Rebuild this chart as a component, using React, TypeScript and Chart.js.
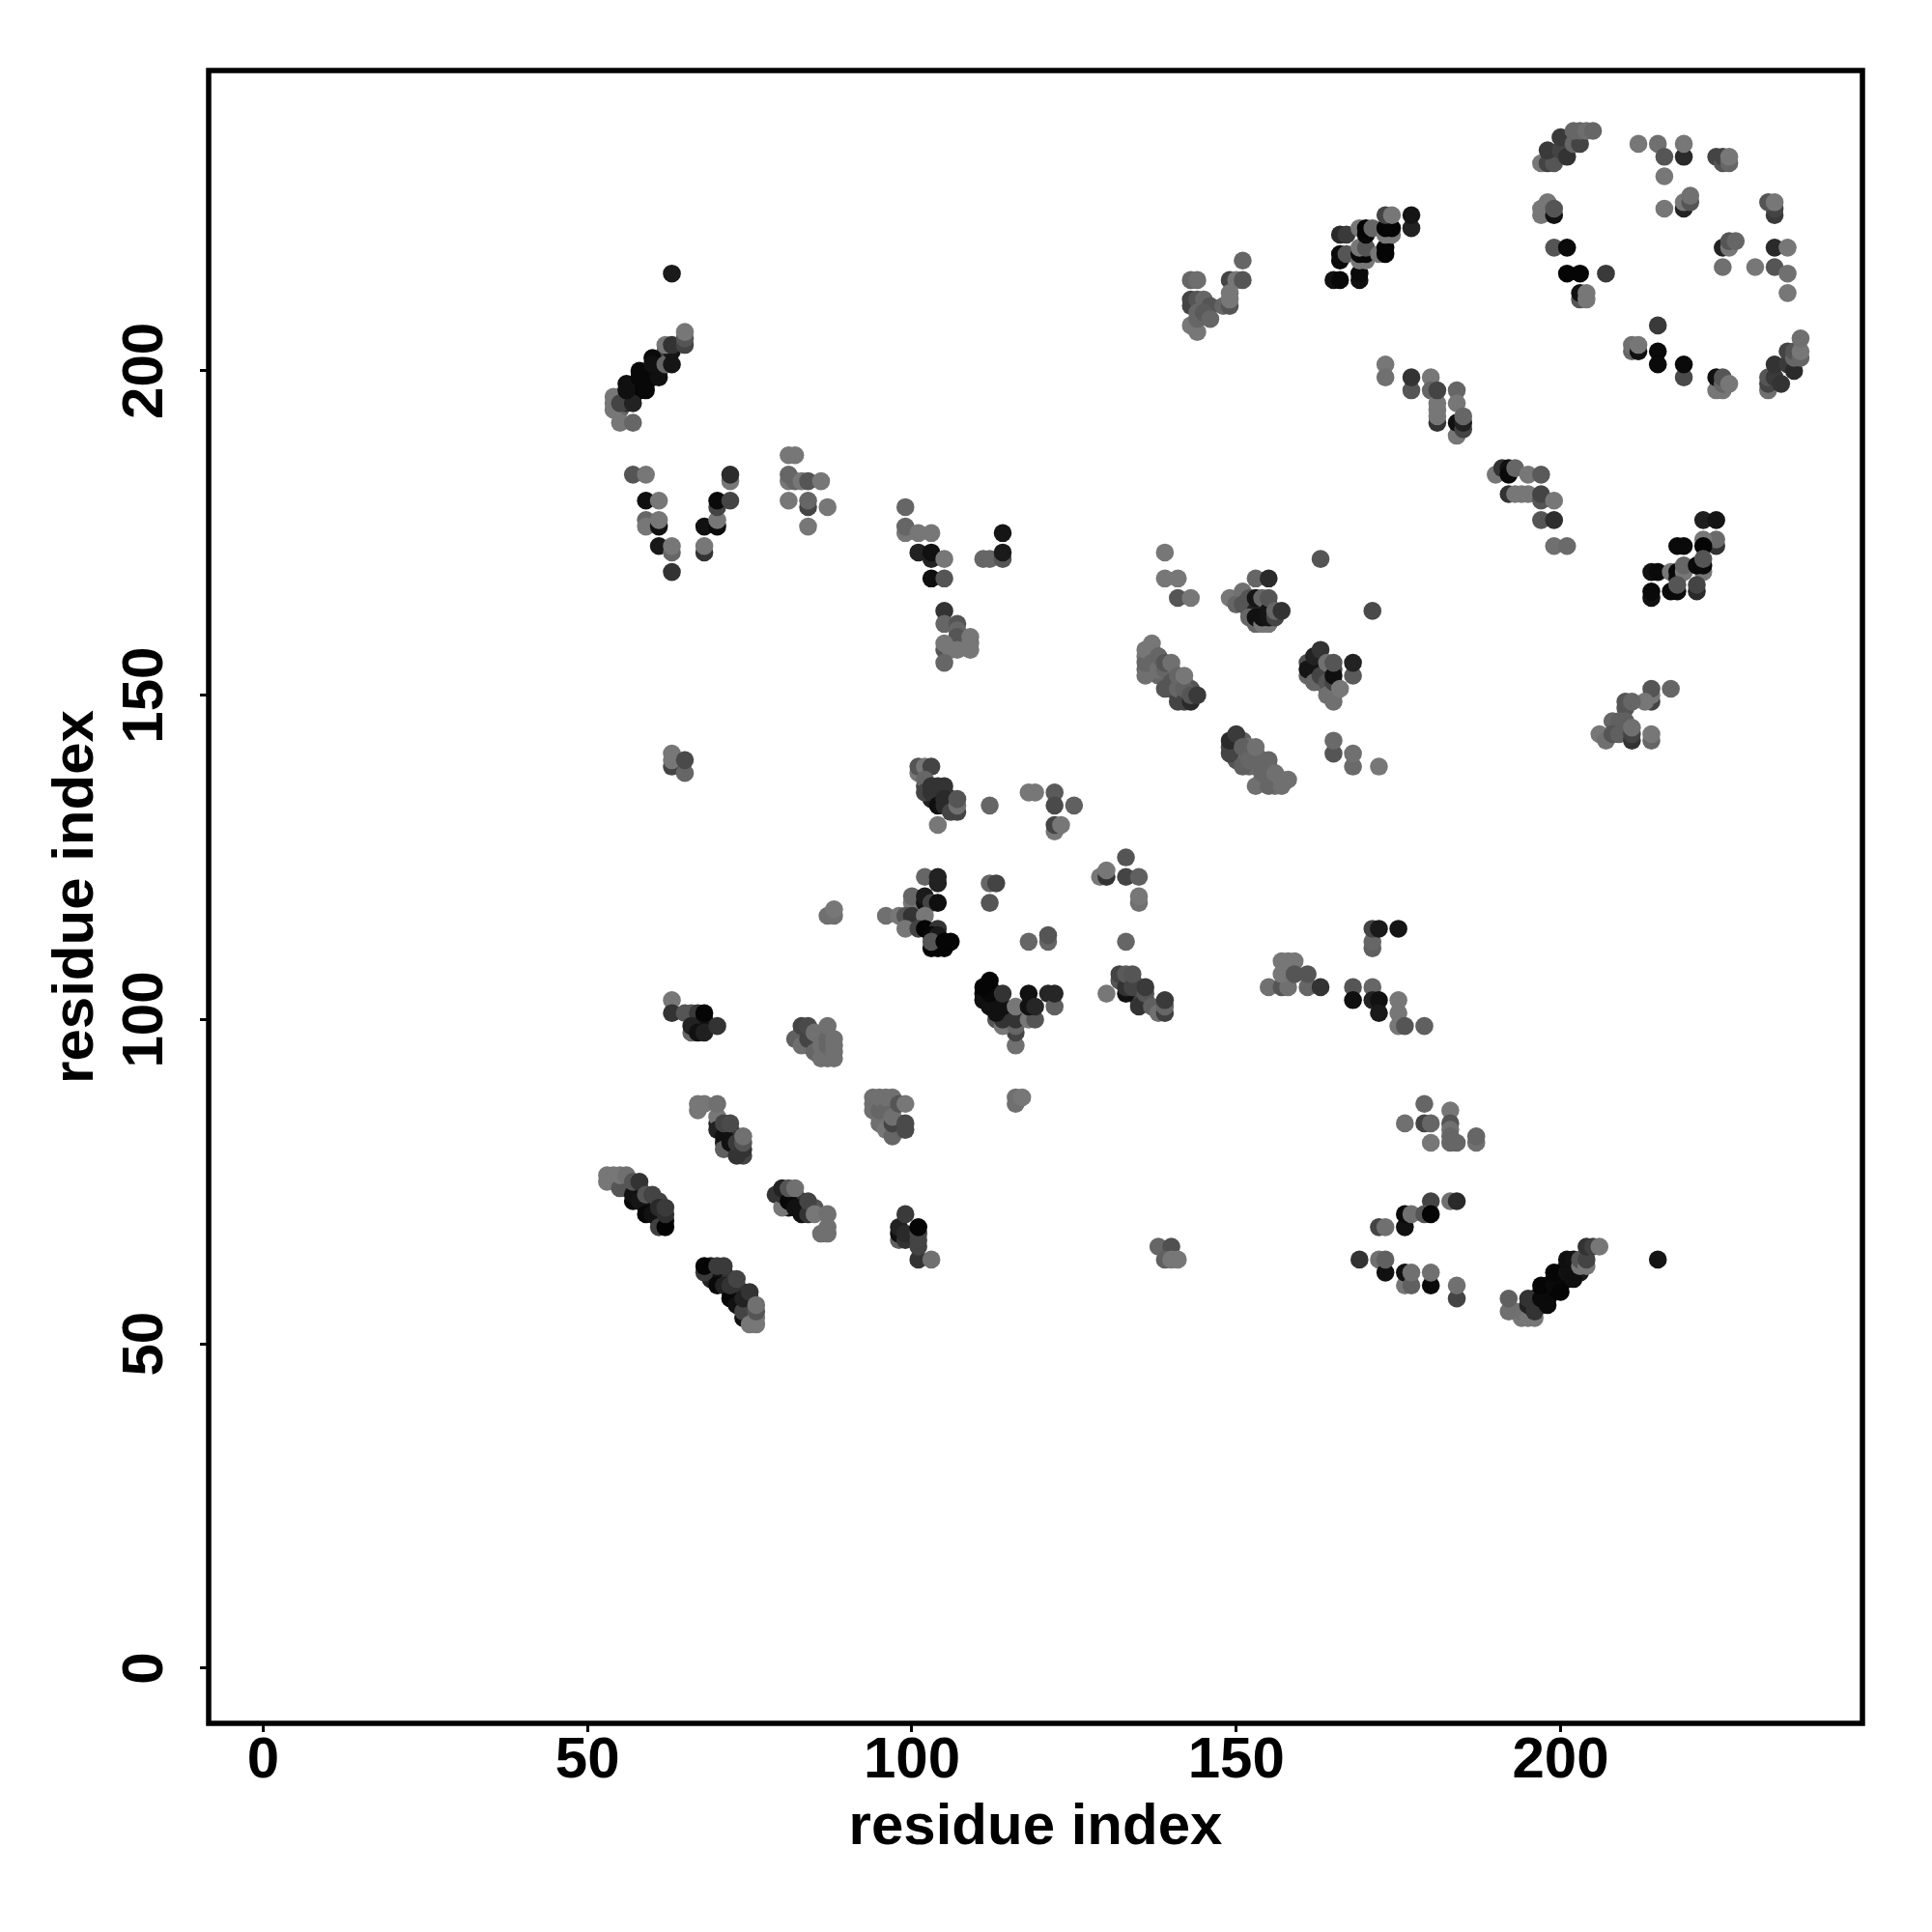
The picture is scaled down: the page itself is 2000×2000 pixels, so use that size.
import React, { useEffect, useRef } from "react";
import { Chart, registerables } from "chart.js";

Chart.register(...registerables);

type Contact = [number, number, number];

const axisTicks = [0, 50, 100, 150, 200];
const axisLabel = "residue index";

// [residue i, residue j, grey level of the mark]
const denseBandsLow: Contact[] = [[53,76,0x77],[54,76,0x77],[55,75,0x66],[56,75,0x55],[56,74,0x33],[57,74,0x22],[58,73,0x11],[58,74,0x44],[59,72,0x0f],[59,71,0x11],[60,72,0x33],[60,71,0x11],[61,70,0x11],[61,69,0x11],[62,69,0x11],[61,72,0x44],[69,62,0x22],[69,61,0x15],[69,60,0x22],[70,61,0x11],[70,60,0x11],[71,61,0x22],[71,60,0x11],[72,60,0x33],[72,58,0x11],[73,59,0x22],[73,58,0x11],[73,57,0x11],[74,58,0x33],[74,56,0x22],[75,56,0x44],[75,57,0x33],[75,55,0x44],[75,54,0x77],[193,55,0x77],[194,54,0x77],[196,56,0x22],[196,57,0x15],[197,58,0x0a],[197,56,0x15],[198,57,0x08],[198,58,0x0a],[198,59,0x0a],[199,58,0x05],[199,60,0x0a],[200,59,0x08],[200,60,0x08],[200,61,0x08],[201,60,0x08],[201,62,0x0f],[202,61,0x0f],[202,62,0x11],[203,61,0x1a],[81,73,0x33],[81,71,0x11],[82,72,0x22],[82,73,0x55],[83,72,0x33],[83,71,0x11],[84,71,0x33],[85,71,0x55],[70,84,0x22],[71,83,0x11],[72,82,0x11],[72,83,0x33],[73,82,0x33],[73,80,0x33],[74,79,0x44],[71,81,0x22],[83,97,0x55],[83,98,0x44],[84,98,0x4a],[84,96,0x55],[85,96,0x66],[85,97,0x66],[86,95,0x70],[86,97,0x70],[87,95,0x70],[94,87,0x70],[95,85,0x70],[95,87,0x70],[96,85,0x66],[96,84,0x66],[96,87,0x70],[97,83,0x55],[97,86,0x66],[98,84,0x44],[98,83,0x44]];
const denseBandsHigh: Contact[] = [[55,196,0x55],[55,194,0x66],[56,195,0x33],[56,196,0x22],[57,196,0x11],[57,197,0x08],[58,197,0x06],[58,198,0x06],[59,198,0x08],[59,199,0x10],[60,199,0x08],[60,200,0x0a],[61,200,0x0a],[61,201,0x0f],[62,202,0x11],[62,203,0x44],[137,156,0x77],[137,154,0x66],[138,155,0x66],[138,153,0x66],[139,153,0x66],[140,153,0x66],[140,154,0x66],[140,151,0x55],[141,152,0x66],[141,150,0x44],[142,150,0x44],[142,152,0x66],[143,151,0x55],[137,157,0x77],[136,156,0x77],[136,154,0x66],[150,143,0x44],[150,142,0x44],[150,141,0x55],[150,140,0x55],[151,141,0x60],[151,143,0x60],[151,140,0x66],[152,141,0x66],[152,142,0x70],[152,139,0x66],[153,141,0x70],[153,140,0x6a],[153,139,0x6a],[154,140,0x66],[154,139,0x66],[154,137,0x70],[155,139,0x66],[155,138,0x66],[156,137,0x70],[156,136,0x70],[152,164,0x44],[153,164,0x15],[154,164,0x22],[154,163,0x11],[155,164,0x44],[151,165,0x66],[152,163,0x66],[153,161,0x66],[162,155,0x22],[162,153,0x33],[163,155,0x33],[163,154,0x44],[164,153,0x33],[164,154,0x55],[165,154,0x44],[165,151,0x66],[165,150,0x70],[163,152,0x66],[164,151,0x66],[161,153,0x66],[112,103,0x0a],[112,105,0x05],[111,104,0x05],[113,102,0x08],[113,103,0x08],[113,104,0x22],[115,100,0x33],[115,101,0x33],[114,101,0x22],[113,100,0x55],[102,136,0x44],[103,134,0x22],[104,134,0x22],[104,135,0x33],[105,135,0x33],[106,133,0x33],[106,134,0x33],[133,106,0x44],[134,106,0x44],[134,104,0x22],[135,103,0x33],[135,104,0x44],[135,105,0x55]];
const helixA: Contact[] = [[54,196,0x77],[54,195,0x77],[54,194,0x77],[55,192,0x77],[57,192,0x66],[55,195,0x44],[57,195,0x22],[56,198,0x10],[56,197,0x10],[59,197,0x08],[58,200,0x08],[58,199,0x08],[61,199,0x10],[60,202,0x0a],[60,201,0x10],[62,201,0x66],[63,201,0x15],[63,203,0x15],[62,204,0x77],[63,204,0x33],[65,204,0x44],[65,205,0x55],[65,206,0x77],[63,215,0x1a]];
const clusterB: Contact[] = [[57,184,0x55],[59,184,0x77],[59,180,0x0f],[61,180,0x77],[59,177,0x66],[59,176,0x77],[61,176,0x11],[61,177,0x77],[61,173,0x18],[63,172,0x66],[63,173,0x77],[63,169,0x33],[68,172,0x33],[68,173,0x77],[68,176,0x11],[70,176,0x0a],[70,177,0x77],[70,179,0x44],[70,180,0x0a],[72,180,0x44],[72,183,0x77],[72,184,0x2c]];
const clusterC: Contact[] = [[81,187,0x77],[82,187,0x77],[81,183,0x77],[81,184,0x66],[82,183,0x66],[83,183,0x77],[84,183,0x55],[86,183,0x77],[81,180,0x77],[84,179,0x44],[84,180,0x66],[87,179,0x77],[84,176,0x77]];
const clusterD: Contact[] = [[99,179,0x66],[99,175,0x77],[99,176,0x66],[101,175,0x77],[103,175,0x77],[101,172,0x22],[103,171,0x22],[103,172,0x11],[105,171,0x77],[103,168,0x0f],[105,168,0x55],[111,171,0x66],[112,171,0x66],[114,171,0x55],[114,172,0x1a],[114,175,0x15],[105,163,0x33],[105,161,0x66],[107,161,0x55],[107,160,0x66],[107,159,0x55],[109,159,0x77],[109,158,0x77],[109,157,0x77],[105,157,0x55],[105,158,0x77],[106,157,0x77],[107,157,0x77],[105,155,0x66]];
const clusterE: Contact[] = [[143,214,0x66],[144,214,0x6e],[149,214,0x44],[150,214,0x77],[151,214,0x55],[151,217,0x66],[149,212,0x77],[143,210,0x44],[143,211,0x44],[144,211,0x55],[145,211,0x66],[146,210,0x55],[148,210,0x66],[149,210,0x55],[149,211,0x77],[143,207,0x77],[144,206,0x77],[144,208,0x66],[144,209,0x66],[145,209,0x5a],[146,208,0x66]];
const clusterF: Contact[] = [[165,214,0x11],[166,214,0x08],[169,214,0x10],[169,215,0x0a],[166,217,0x0a],[166,218,0x0a],[167,218,0x55],[166,221,0x2a],[167,221,0x3a],[169,217,0x77],[170,217,0x77],[169,218,0x0a],[170,218,0x08],[169,219,0x77],[170,219,0x55],[169,222,0x77],[170,221,0x08],[170,222,0x05],[171,222,0x66],[172,218,0x77],[173,218,0x05],[173,219,0x05],[173,221,0x77],[174,221,0x77],[173,222,0x05],[174,222,0x05],[173,224,0x44],[174,224,0x77],[177,222,0x22],[177,224,0x15]];
const clusterG: Contact[] = [[173,201,0x77],[173,199,0x70],[177,197,0x55],[177,199,0x33],[180,199,0x77],[180,197,0x66],[181,192,0x33],[181,193,0x77],[181,194,0x77],[181,195,0x77],[181,197,0x44],[184,197,0x66],[184,195,0x77],[184,190,0x77],[184,192,0x11],[185,191,0x44],[185,192,0x22],[185,193,0x66]];
const arcTop: Contact[] = [[197,232,0x77],[198,232,0x44],[199,232,0x55],[198,234,0x3a],[200,234,0x44],[201,233,0x33],[200,236,0x3a],[202,235,0x66],[203,235,0x44],[202,237,0x66],[203,237,0x66],[204,237,0x6e],[205,237,0x66],[212,235,0x77],[215,235,0x70],[216,233,0x55],[219,233,0x2a],[219,235,0x77],[216,230,0x77],[224,233,0x44],[225,232,0x55],[225,233,0x44],[226,232,0x66],[226,233,0x77],[216,225,0x77],[219,225,0x22],[219,226,0x77],[220,226,0x55],[220,227,0x70],[233,224,0x3a],[233,225,0x44],[232,226,0x55],[233,226,0x77]];
const arcLeft: Contact[] = [[197,224,0x77],[197,225,0x77],[198,226,0x77],[199,224,0x11],[199,225,0x55],[199,219,0x55],[201,219,0x0a],[201,215,0x05],[203,215,0x05],[207,215,0x3a],[203,211,0x55],[203,212,0x11],[204,211,0x77],[204,212,0x77]];
const arcRight: Contact[] = [[225,219,0x22],[226,219,0x77],[226,220,0x55],[227,220,0x66],[225,216,0x70],[230,216,0x77],[233,219,0x2a],[235,219,0x77],[233,216,0x55],[235,215,0x70],[235,212,0x77]];
const arcBottom: Contact[] = [[215,207,0x3a],[211,203,0x66],[211,204,0x70],[212,203,0x10],[212,204,0x77],[215,203,0x0a],[215,201,0x0a],[219,199,0x4a],[219,201,0x0a],[224,197,0x77],[225,197,0x77],[224,199,0x11],[225,198,0x66],[225,199,0x55],[226,198,0x77],[232,197,0x70],[232,198,0x44],[232,199,0x55],[233,199,0x3a],[233,201,0x33],[234,198,0x33],[235,201,0x3a],[236,200,0x2a],[235,203,0x44],[236,202,0x66],[236,203,0x55],[237,202,0x66],[237,203,0x77],[237,205,0x70]];
const clusterH: Contact[] = [[190,184,0x77],[191,185,0x33],[192,185,0x11],[192,184,0x0a],[193,185,0x66],[195,184,0x77],[197,184,0x5a],[192,181,0x33],[193,181,0x77],[194,181,0x77],[195,181,0x77],[197,180,0x55],[197,181,0x44],[199,180,0x77],[197,177,0x55],[199,177,0x2e],[199,173,0x70],[201,173,0x6a]];
const clusterI: Contact[] = [[222,177,0x1f],[224,177,0x15],[224,173,0x33],[224,174,0x6a],[222,174,0x77],[222,173,0x05],[218,173,0x0a],[219,173,0x0a],[214,169,0x11],[215,169,0x0a],[217,169,0x77],[218,168,0x11],[218,169,0x08],[219,169,0x77],[219,170,0x66],[222,169,0x77],[221,170,0x0a],[222,170,0x0a],[222,171,0x55],[214,165,0x11],[214,166,0x0a],[217,166,0x0a],[218,166,0x0a],[218,167,0x55],[221,166,0x2a],[221,167,0x44]];
const clusterJ: Contact[] = [[214,149,0x44],[214,150,0x77],[214,151,0x55],[217,151,0x66],[213,149,0x77],[210,148,0x55],[210,149,0x55],[211,149,0x66],[208,146,0x66],[209,146,0x60],[210,146,0x60],[206,144,0x77],[207,143,0x70],[208,144,0x55],[209,144,0x60],[211,143,0x33],[211,144,0x44],[211,145,0x70],[214,143,0x66],[214,144,0x77]];
const clusterK: Contact[] = [[139,172,0x77],[139,168,0x77],[141,168,0x77],[141,165,0x55],[143,165,0x77],[153,168,0x66],[155,168,0x2a],[163,171,0x55],[171,163,0x4a],[149,165,0x77],[150,164,0x66],[151,166,0x70],[151,164,0x55],[152,165,0x55],[153,163,0x22],[153,165,0x15],[152,162,0x66],[153,162,0x11],[154,161,0x77],[155,161,0x77],[154,162,0x11],[155,162,0x15],[154,165,0x66],[155,163,0x15],[155,165,0x55],[156,162,0x44],[156,163,0x66],[157,163,0x33]];
const clusterL: Contact[] = [[136,153,0x70],[136,155,0x66],[136,157,0x77],[137,155,0x66],[137,158,0x77],[138,154,0x70],[138,156,0x66],[139,151,0x55],[139,154,0x66],[139,155,0x55],[140,152,0x55],[140,155,0x70],[141,149,0x44],[141,151,0x66],[141,153,0x66],[142,149,0x44],[142,151,0x60],[142,153,0x77],[143,149,0x2a],[143,150,0x55],[144,150,0x3a]];
const clusterM: Contact[] = [[149,141,0x44],[149,142,0x44],[149,143,0x2a],[150,144,0x3a],[151,139,0x60],[151,142,0x60],[152,140,0x66],[153,136,0x70],[153,142,0x70],[154,138,0x66],[155,136,0x66],[155,137,0x66],[155,140,0x66],[156,138,0x70],[157,136,0x70],[157,137,0x70],[158,137,0x70]];
const clusterN: Contact[] = [[161,155,0x50],[161,154,0x15],[162,154,0x15],[162,156,0x22],[163,157,0x33],[162,152,0x66],[163,153,0x44],[164,155,0x70],[164,152,0x55],[164,150,0x70],[165,149,0x70],[165,152,0x44],[165,153,0x0f],[165,155,0x55],[166,151,0x77],[168,153,0x5a],[168,155,0x22],[165,141,0x55],[165,143,0x6a],[168,139,0x6a],[168,141,0x70],[172,139,0x77]];
const clusterO: Contact[] = [[63,139,0x44],[63,140,0x77],[63,141,0x77],[65,138,0x66],[65,140,0x4a]];
const clusterP: Contact[] = [[101,138,0x77],[101,139,0x55],[102,139,0x77],[103,139,0x44],[102,137,0x66],[102,135,0x44],[103,135,0x33],[103,136,0x33],[104,136,0x33],[105,136,0x33],[104,133,0x0f],[105,133,0x2a],[105,134,0x2a],[106,132,0x44],[107,132,0x44],[107,133,0x70],[107,134,0x55],[104,130,0x77],[112,133,0x66],[118,135,0x77],[119,135,0x77],[122,135,0x5a],[122,133,0x4a],[125,133,0x60],[122,129,0x77],[122,130,0x44],[123,130,0x77]];
const clusterQ: Contact[] = [[102,122,0x66],[104,121,0x22],[104,122,0x22],[100,118,0x77],[100,119,0x66],[102,118,0x11],[102,119,0x1a],[103,118,0x44],[104,118,0x0f],[96,116,0x70],[98,116,0x77],[99,116,0x55],[100,116,0x33],[102,116,0x77],[99,114,0x77],[101,114,0x44],[102,114,0x05],[104,114,0x33],[103,113,0x08],[104,113,0x1a],[103,111,0x05],[104,111,0x05],[105,111,0x05],[103,112,0x55],[105,112,0x05],[106,112,0x05],[87,116,0x70],[88,116,0x70],[88,117,0x77],[112,121,0x66],[113,121,0x44],[112,118,0x55],[118,112,0x66],[121,112,0x66],[121,113,0x55]];
const clusterR: Contact[] = [[116,96,0x70],[116,98,0x44],[114,99,0x77],[116,99,0x66],[114,100,0x33],[116,100,0x33],[118,100,0x77],[119,100,0x55],[113,101,0x11],[111,103,0x10],[112,102,0x11],[112,104,0x08],[111,105,0x05],[112,106,0x05],[114,102,0x11],[114,104,0x33],[116,102,0x77],[118,102,0x11],[118,104,0x11],[119,102,0x26],[121,104,0x26],[122,102,0x60],[122,104,0x26],[116,87,0x70],[116,88,0x70],[117,88,0x77]];
const clusterS: Contact[] = [[63,103,0x77],[63,101,0x33],[65,101,0x55],[66,101,0x55],[67,101,0x3a],[68,100,0x11],[66,98,0x66],[66,99,0x22],[67,98,0x11],[68,98,0x20],[68,101,0x05],[70,99,0x33]];
const clusterT: Contact[] = [[82,97,0x60],[83,96,0x6e],[83,99,0x44],[84,97,0x44],[84,99,0x4a],[85,95,0x66],[85,98,0x70],[86,94,0x70],[86,96,0x70],[87,94,0x70],[87,96,0x66],[87,97,0x66],[87,99,0x70],[88,94,0x70],[88,95,0x70],[88,96,0x70],[88,97,0x70]];
const clusterU: Contact[] = [[67,86,0x77],[67,87,0x77],[68,87,0x77],[70,85,0x77],[70,87,0x70],[70,83,0x22],[71,82,0x11],[71,80,0x60],[72,81,0x11],[71,84,0x44],[72,84,0x4a],[73,79,0x33],[73,81,0x3a],[74,80,0x33],[74,81,0x55],[74,82,0x70]];
const clusterV: Contact[] = [[94,86,0x70],[94,88,0x70],[95,84,0x70],[95,86,0x66],[95,88,0x70],[96,83,0x77],[96,86,0x66],[96,88,0x70],[97,82,0x66],[97,84,0x44],[97,85,0x70],[97,88,0x70],[98,87,0x55],[99,83,0x4a],[99,84,0x4a],[99,87,0x77]];
const strandW: Contact[] = [[53,75,0x77],[54,75,0x77],[55,74,0x55],[55,76,0x77],[56,76,0x70],[57,72,0x08],[57,73,0x11],[57,75,0x55],[58,72,0x15],[58,75,0x33],[59,70,0x08],[59,73,0x55],[60,70,0x11],[60,73,0x44],[61,68,0x40],[62,68,0x03],[61,71,0x2a],[62,70,0x2e],[62,71,0x3a]];
const strandX: Contact[] = [[68,61,0x3a],[68,62,0x05],[70,59,0x08],[70,62,0x3a],[71,59,0x22],[71,62,0x3a],[72,57,0x08],[72,59,0x33],[73,56,0x11],[73,60,0x44],[74,54,0x11],[74,55,0x44],[74,57,0x22],[75,53,0x77],[75,58,0x33],[76,53,0x77],[76,54,0x77],[76,55,0x55],[76,56,0x70]];
const strandY: Contact[] = [[79,73,0x33],[80,71,0x77],[80,73,0x33],[80,74,0x22],[81,72,0x08],[81,74,0x55],[82,71,0x11],[82,74,0x70],[83,70,0x11],[84,70,0x33],[84,72,0x44],[85,70,0x77],[86,67,0x70],[87,67,0x70],[87,68,0x70],[87,70,0x70]];
const clusterZ: Contact[] = [[98,66,0x60],[98,67,0x0f],[98,68,0x22],[99,66,0x33],[99,67,0x2a],[99,70,0x3a],[101,63,0x33],[101,65,0x44],[101,66,0x44],[101,67,0x44],[101,68,0x05],[103,63,0x70],[138,65,0x66],[140,65,0x50],[139,63,0x60],[140,63,0x77],[141,63,0x77]];
const clusterAA: Contact[] = [[133,125,0x55],[129,122,0x77],[130,122,0x33],[130,123,0x77],[133,122,0x44],[135,122,0x60],[135,118,0x70],[135,119,0x77],[133,112,0x66],[130,104,0x77],[132,106,0x55],[132,107,0x44],[133,104,0x11],[133,105,0x33],[133,107,0x5a],[134,105,0x44],[134,107,0x55],[135,102,0x33],[136,103,0x33],[136,104,0x55],[136,105,0x3a],[137,102,0x60],[138,101,0x70],[139,101,0x40],[139,102,0x66],[139,103,0x3a]];
const clusterAB: Contact[] = [[155,105,0x70],[157,105,0x55],[158,105,0x70],[157,107,0x77],[157,109,0x77],[158,109,0x77],[159,109,0x77],[159,107,0x55],[161,105,0x66],[161,107,0x55],[163,105,0x33],[171,111,0x60],[171,112,0x66],[171,114,0x44],[172,114,0x1a],[175,114,0x15],[168,105,0x55],[171,105,0x66],[168,103,0x0f],[171,103,0x22],[172,103,0x11],[172,101,0x1a],[175,99,0x77],[175,101,0x77],[175,103,0x77],[176,99,0x55],[179,99,0x60]];
const clusterAC: Contact[] = [[179,87,0x66],[183,86,0x77],[176,84,0x70],[179,84,0x44],[180,84,0x66],[183,84,0x55],[183,83,0x70],[183,82,0x66],[180,81,0x77],[183,81,0x66],[184,81,0x66],[187,81,0x70],[187,82,0x66]];
const clusterAD: Contact[] = [[180,72,0x44],[183,72,0x70],[184,72,0x2a],[176,68,0x11],[176,70,0x0a],[177,70,0x70],[179,70,0x55],[180,70,0x05],[172,68,0x44],[173,68,0x70],[169,63,0x33],[172,63,0x70],[173,61,0x11],[173,63,0x60],[176,59,0x77],[176,61,0x11],[177,59,0x60],[177,61,0x70],[180,59,0x0a],[180,61,0x70],[184,57,0x44],[184,59,0x70]];
const strandAE: Contact[] = [[192,55,0x70],[192,57,0x60],[194,55,0x70],[195,54,0x77],[196,54,0x77],[195,56,0x22],[195,57,0x33],[196,55,0x33],[197,57,0x0a],[197,59,0x05],[198,56,0x0a],[199,59,0x0a],[199,61,0x05],[200,58,0x05],[201,61,0x11],[201,63,0x0f],[202,60,0x0f],[202,63,0x11],[203,62,0x77],[203,63,0x55],[204,62,0x77],[204,63,0x44],[204,65,0x33],[205,65,0x40],[206,65,0x77],[215,63,0x15]];

const allContacts: Contact[][] = [denseBandsLow, denseBandsHigh, helixA, clusterB, clusterC, clusterD, clusterE, clusterF, clusterG, arcTop, arcLeft, arcRight, arcBottom, clusterH, clusterI, clusterJ, clusterK, clusterL, clusterM, clusterN, clusterO, clusterP, clusterQ, clusterR, clusterS, clusterT, clusterU, clusterV, strandW, strandX, strandY, clusterZ, clusterAA, clusterAB, clusterAC, clusterAD, strandAE];

const FONT = { family: '"Liberation Sans", Arimo, Helvetica, Arial, sans-serif', size: 60, weight: "bold" as const };

const framePlugin = {
  id: "frame",
  afterDraw(chart: any) {
    const { ctx, chartArea: a } = chart;
    ctx.save();
    ctx.strokeStyle = "#000";
    ctx.lineWidth = 5.5;
    ctx.lineJoin = "miter";
    ctx.strokeRect(a.left, a.top, a.right - a.left, a.bottom - a.top);
    ctx.restore();
  },
};

export default function App() {
  const ref = useRef<HTMLCanvasElement>(null);
  useEffect(() => {
    const points = allContacts.flat();
    const grey = (v: number) => `rgb(${v},${v},${v})`;
    const setTicks = (scale: any) => {
      scale.ticks = axisTicks.map((value) => ({ value, label: String(value) }));
    };
    const chart = new Chart(ref.current as HTMLCanvasElement, {
      type: "scatter",
      data: {
        datasets: [
          {
            data: points.map(([x, y]) => ({ x, y })),
            backgroundColor: points.map((p) => grey(p[2])),
            borderWidth: 0,
            pointRadius: 9.3,
            pointHoverRadius: 9.3,
          },
        ],
      },
      options: {
        animation: false,
        responsive: false,
        devicePixelRatio: 1,
        layout: { padding: { left: 0, top: 73, right: 72, bottom: 0 } },
        plugins: { legend: { display: false }, tooltip: { enabled: false }, title: { display: false } },
        scales: {
          x: {
            type: "linear",
            min: -8.41,
            max: 246.54,
            afterFit: (s: any) => { s.height = 216; },
            afterBuildTicks: setTicks,
            border: { display: false },
            grid: { drawOnChartArea: false, drawTicks: true, tickLength: 9, tickWidth: 3, tickColor: "#000" },
            ticks: { color: "#000", font: FONT, padding: -6, maxRotation: 0, minRotation: 0, autoSkip: false },
            title: { display: true, text: axisLabel, color: "#000", font: FONT, padding: { top: 0, bottom: 72 } },
          },
          y: {
            type: "linear",
            min: -8.49,
            max: 246.3,
            afterFit: (s: any) => { s.width = 216; },
            afterBuildTicks: setTicks,
            border: { display: false },
            grid: { drawOnChartArea: false, drawTicks: true, tickLength: 9, tickWidth: 3, tickColor: "#000" },
            ticks: { color: "#000", font: FONT, padding: 5, minRotation: 90, maxRotation: 90, crossAlign: "center", autoSkip: false },
            title: { display: true, text: axisLabel, color: "#000", font: FONT, padding: { top: 43, bottom: 0 } },
          },
        },
      },
      plugins: [framePlugin],
    } as any);
    return () => chart.destroy();
  }, []);
  return (
    <div style={{ position: "absolute", left: 0, top: 0, width: 2000, height: 2000, background: "#fff" }}>
      <canvas ref={ref} width={2000} height={2000} style={{ display: "block" }} />
    </div>
  );
}
